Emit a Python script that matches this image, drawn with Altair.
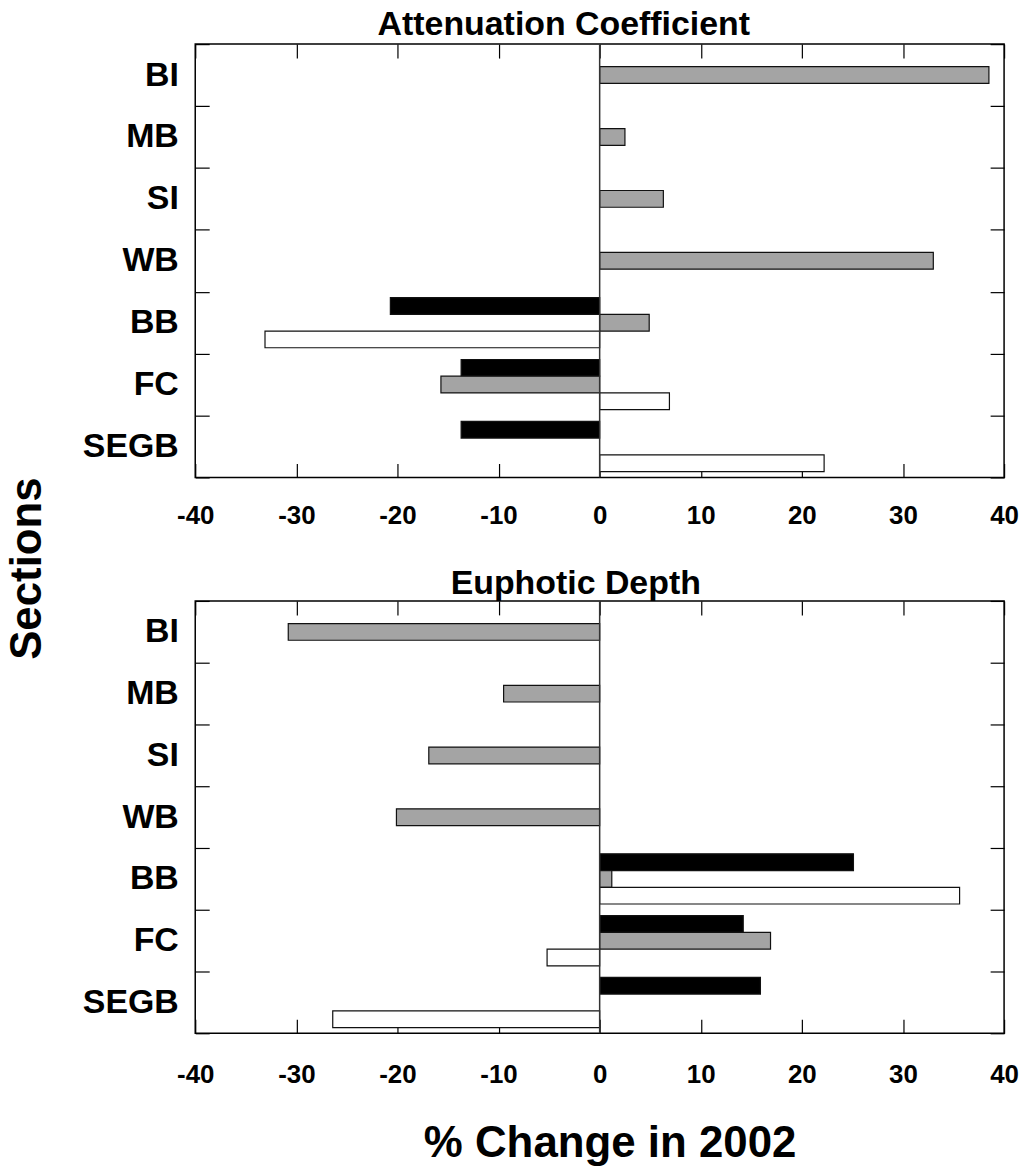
import altair as alt
import pandas as pd

# ---------------- data ----------------
sections = ["BI", "MB", "SI", "WB", "BB", "FC", "SEGB"]
series = ["Series 1", "Series 2", "Series 3"]          # black, grey, white bars
series_colors = ["#000000", "#a4a4a4", "#ffffff"]

# Attenuation Coefficient (% change in 2002); None = no bar
atten_s1 = [None, None, None, None, -20.7, -13.7, -13.7]
atten_s2 = [38.5, 2.5, 6.3, 33.0, 4.9, -15.7, None]
atten_s3 = [None, None, None, None, -33.1, 6.9, 22.2]

# Euphotic Depth (% change in 2002)
euph_s1 = [None, None, None, None, 25.1, 14.2, 15.9]
euph_s2 = [-30.8, -9.5, -16.9, -20.1, 1.2, 16.9, None]
euph_s3 = [None, None, None, None, 35.6, -5.2, -26.4]

x_ticks = [-40, -30, -20, -10, 0, 10, 20, 30, 40]

FONT = "Liberation Sans"


def make_df(s1, s2, s3):
    rows = []
    for name, vals in zip(series, [s1, s2, s3]):
        for sec, v in zip(sections, vals):
            if v is not None:
                rows.append({"section": sec, "series": name, "value": v})
    return pd.DataFrame(rows)


def panel(df, title, dx, title_offset, width, height, label_pad, left_title=None, bottom_title=None):
    xscale = alt.Scale(domain=[-40, 40], nice=False, zero=False)
    yscale = alt.Scale(domain=sections, paddingInner=0, paddingOuter=0)
    yoff_scale = alt.Scale(domain=series, paddingInner=0, paddingOuter=0.35)
    color = alt.Color("series:N", scale=alt.Scale(domain=series, range=series_colors), legend=None)

    left_axis_kw = dict(
        orient="left", offset=-14, tickSize=14, tickBand="extent", domain=False,
        labelFont=FONT, labelFontSize=34, labelFontWeight="bold", labelColor="black",
        labelPadding=17, tickColor="black", tickWidth=1.2, grid=False,
    )
    if left_title:
        left_axis_kw.update(
            title=left_title, titleFont=FONT, titleFontSize=44, titleFontWeight="bold",
            titleColor="black", titleAngle=270, titleAlign="center", titleBaseline="alphabetic",
            titleX=-169, titleY=526,
        )
    else:
        left_axis_kw.update(title=None)

    bottom_axis_kw = dict(
        orient="bottom", values=x_ticks, offset=-14, tickSize=14, domain=False, grid=False,
        labelFont=FONT, labelFontSize=26, labelFontWeight="bold", labelColor="black",
        labelPadding=label_pad, tickColor="black", tickWidth=1.2, labelFlush=False,
        labelExpr="datum.value + ''",
    )
    if bottom_title:
        bottom_axis_kw.update(
            title=bottom_title, titleFont=FONT, titleFontSize=44, titleFontWeight="bold",
            titleColor="black", titleAlign="center", titleBaseline="alphabetic",
            titleX=416, titleY=138,
        )
    else:
        bottom_axis_kw.update(title=None)

    bars = alt.Chart(df).mark_bar(stroke="#111111", strokeWidth=1.2).encode(
        x=alt.X("value:Q", scale=xscale, axis=alt.Axis(**bottom_axis_kw)),
        y=alt.Y("section:N", sort=sections, scale=yscale, axis=alt.Axis(**left_axis_kw)),
        yOffset=alt.YOffset("series:N", sort=series, scale=yoff_scale),
        color=color,
    )

    right = alt.Chart(df).mark_bar(opacity=0).encode(
        x=alt.X("value:Q", scale=xscale, axis=None),
        y=alt.Y("section:N", sort=sections, scale=yscale,
                axis=alt.Axis(orient="right", offset=-14, tickSize=14, tickBand="extent",
                              domain=False, labels=False, title=None, grid=False,
                              tickColor="black", tickWidth=1.2)),
        yOffset=alt.YOffset("series:N", sort=series, scale=yoff_scale),
    )

    zero = alt.Chart(pd.DataFrame({"z": [0]})).mark_rule(color="#333333", strokeWidth=1.5).encode(
        x=alt.X("z:Q", scale=xscale,
                axis=alt.Axis(orient="top", values=x_ticks, offset=-14, tickSize=14,
                              domain=False, labels=False, title=None, grid=False,
                              tickColor="black", tickWidth=1.2)),
    )

    return alt.layer(bars, right, zero).properties(
        width=width, height=height,
        title=alt.TitleParams(title, font=FONT, fontSize=34, fontWeight="bold", color="black",
                              anchor="middle", dx=dx, offset=title_offset),
    )


top = panel(make_df(atten_s1, atten_s2, atten_s3), "Attenuation Coefficient", -36, -15, 812, 435,
            label_pad=25, left_title="Sections")
bottom = panel(make_df(euph_s1, euph_s2, euph_s3), "Euphotic Depth", -24, -17, 812, 434,
               label_pad=28, bottom_title="% Change in 2002")

chart = alt.vconcat(top, bottom, spacing=124, bounds="flush").properties(
    padding={"left": 5, "top": 5, "right": 5, "bottom": 5},
    background="white",
).configure_view(stroke="black", strokeWidth=1.5).configure_axis(
    labelFont=FONT, titleFont=FONT
)

chart.save("out.html", embed_options={"renderer": "svg", "actions": False})
